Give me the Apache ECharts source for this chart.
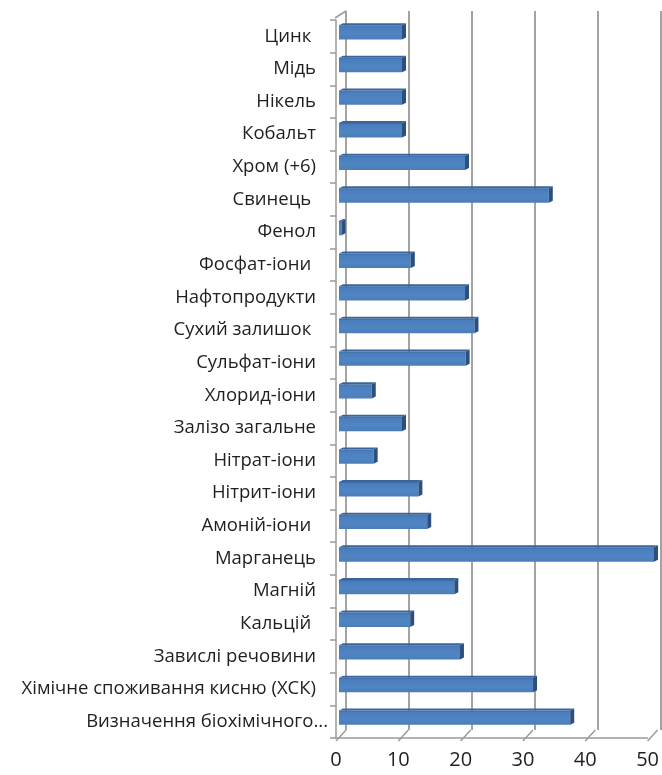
<!DOCTYPE html>
<html>
<head>
<meta charset="utf-8">
<script src="https://cdn.jsdelivr.net/npm/echarts@6/dist/echarts.min.js"></script>
<style>
  html, body { margin: 0; padding: 0; background: #fff; }
  #chart { width: 662px; height: 775px; }
</style>
</head>
<body>
<div id="chart"></div>
<script>
// Показники якості води (категорії зверху вниз)
const categories = [
  'Цинк ', 'Мідь', 'Нікель', 'Кобальт', 'Хром (+6)', 'Свинець ', 'Фенол',
  'Фосфат-іони ', 'Нафтопродукти', 'Сухий залишок ', 'Сульфат-іони',
  'Хлорид-іони', 'Залізо загальне', 'Нітрат-іони', 'Нітрит-іони',
  'Амоній-іони ', 'Марганець', 'Магній', 'Кальцій ', 'Завислі речовини',
  'Хімічне споживання кисню (ХСК)', 'Визначення біохімічного...'
];
const values = [
  10, 10, 10, 10, 20, 33.3, 0.4,
  11.4, 20, 21.5, 20.1,
  5.2, 10, 5.5, 12.6,
  14, 50, 18.3, 11.3, 19.2,
  30.8, 36.7
];
const axisTicks = [0, 10, 20, 30, 40, 50];

const FONT = '"Open Sans", sans-serif';
const chart = echarts.init(document.getElementById('chart'), null, { renderer: 'canvas' });

// Об'ємний брусок: передня грань, верхня кромка та торець
function renderBar(params, api) {
  const idx = api.value(0);
  const val = api.value(1);
  const start = api.coord([0, idx]);
  const end = api.coord([val, idx]);
  const band = api.size([0, 1])[1];
  const h = band * 0.44;
  const top = start[1] - h / 2;
  const bot = start[1] + h / 2;
  const dx = 4, dy = 2;
  const w = Math.max(end[0] - start[0], 0.6);
  return {
    type: 'group',
    children: [
      {
        type: 'polygon',
        shape: { points: [[start[0], top], [start[0] + dx, top - dy], [start[0] + w + dx, top - dy], [start[0] + w, top]] },
        style: { fill: '#3a659c' }
      },
      {
        type: 'rect',
        shape: { x: start[0], y: top, width: w, height: h },
        style: {
          fill: new echarts.graphic.LinearGradient(0, 0, 0, 1, [
            { offset: 0, color: '#3c6aa6' },
            { offset: 0.12, color: '#4a7dbc' },
            { offset: 0.6, color: '#5085c3' },
            { offset: 1, color: '#4b7db9' }
          ])
        }
      },
      {
        type: 'polygon',
        shape: { points: [[start[0] + w, top], [start[0] + w + dx, top - dy], [start[0] + w + dx, bot - dy], [start[0] + w, bot]] },
        style: { fill: '#2c4f7e' }
      }
    ]
  };
}

// Підлога: діагоналі від переднього краю до задньої стінки та верхнє ребро лівої стінки
function renderFloor(params, api) {
  const cs = params.coordSys;
  const p = api.coord([api.value(0), 0]);
  const baseY = cs.y + cs.height;
  const children = [{
    type: 'line',
    shape: { x1: p[0], y1: baseY + 3, x2: p[0] + 10, y2: baseY - 8 },
    style: { stroke: '#9a9a9a', lineWidth: 1.5 }
  }];
  if (params.dataIndex === 0) {
    children.push({
      type: 'line',
      shape: { x1: cs.x - 1, y1: cs.y - 2, x2: cs.x + 10, y2: cs.y - 9 },
      style: { stroke: '#9a9a9a', lineWidth: 1.5 }
    });
  }
  return { type: 'group', children };
}

// Остання (скорочена) підпис стоїть ближче до осі
const categoryData = categories.map((name, i) =>
  i === categories.length - 1 ? { value: name, textStyle: { padding: [0, -12, 0, 0] } } : name
);

chart.setOption({
  animation: false,
  backgroundColor: '#ffffff',
  grid: [
    // задня стінка з лініями сітки
    { left: 346, top: 11, width: 315, height: 719 },
    // простір брусків
    { left: 339, top: 16, width: 315, height: 718 },
    // передні осі
    { left: 336, top: 20, width: 312, height: 718 }
  ],
  xAxis: [
    {
      gridIndex: 0, type: 'value', min: 0, max: 50, interval: 10,
      axisLine: { show: false }, axisTick: { show: false }, axisLabel: { show: false },
      splitLine: { show: true, lineStyle: { color: '#a3a3a3', width: 2 } }
    },
    {
      gridIndex: 1, type: 'value', min: 0, max: 50, interval: 10,
      axisLine: { show: false }, axisTick: { show: false }, axisLabel: { show: false },
      splitLine: { show: false }
    },
    {
      gridIndex: 2, type: 'value', min: 0, max: 50, interval: 10,
      axisLine: { show: true, lineStyle: { color: '#9a9a9a', width: 1.5 } },
      axisTick: { show: false },
      axisLabel: { show: true, margin: 12, color: '#1f1f1f', fontSize: 20, fontFamily: FONT,
        formatter: v => axisTicks.includes(v) ? String(v) : '' },
      splitLine: { show: false }
    }
  ],
  yAxis: [
    {
      gridIndex: 0, type: 'category', data: categories, inverse: true,
      axisLine: { show: false }, axisTick: { show: false }, axisLabel: { show: false }, splitLine: { show: false }
    },
    {
      gridIndex: 1, type: 'category', data: categories, inverse: true,
      axisLine: { show: false }, axisTick: { show: false }, axisLabel: { show: false }, splitLine: { show: false }
    },
    {
      gridIndex: 2, type: 'category', data: categoryData, inverse: true,
      axisLine: { show: true, lineStyle: { color: '#9a9a9a', width: 1.5 } },
      axisTick: { show: true, length: 6, lineStyle: { color: '#9a9a9a', width: 1.5 } },
      axisLabel: { show: true, margin: 20, color: '#1f1f1f', fontSize: 18.5, fontFamily: FONT },
      splitLine: { show: false }
    }
  ],
  series: [
    {
      type: 'custom',
      xAxisIndex: 2, yAxisIndex: 2,
      renderItem: renderFloor,
      data: axisTicks.map(v => [v]),
      encode: { x: 0 },
      silent: true, z: 1
    },
    {
      type: 'custom',
      xAxisIndex: 1, yAxisIndex: 1,
      renderItem: renderBar,
      data: values.map((v, i) => [i, v]),
      encode: { y: 0, x: 1 },
      z: 5
    }
  ]
});
</script>
</body>
</html>
